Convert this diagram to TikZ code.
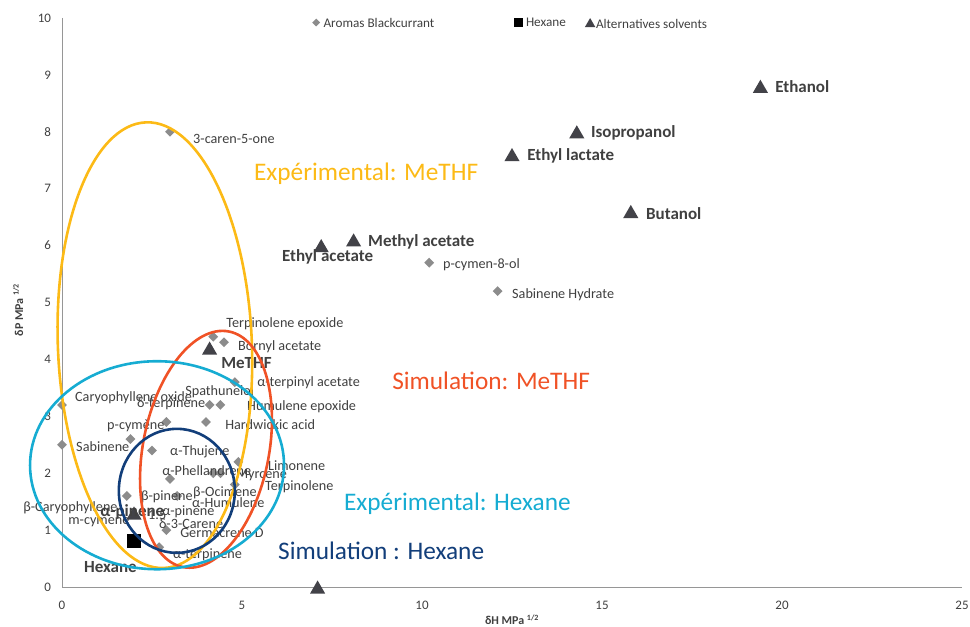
\documentclass[tikz,border=0pt]{standalone}
\usepackage{fontspec}
\setmainfont{Carlito}
\usetikzlibrary{shapes.geometric}
\usetikzlibrary{positioning}

\definecolor{aromagray}{RGB}{140,140,140}
\definecolor{solventgray}{RGB}{66,66,72}
\definecolor{textgray}{RGB}{64,64,64}
\definecolor{axisgray}{RGB}{150,150,150}
\definecolor{expmethf}{RGB}{252,186,22}
\definecolor{simmethf}{RGB}{240,82,38}
\definecolor{exphex}{RGB}{22,172,210}
\definecolor{simhex}{RGB}{18,62,122}

\begin{document}
\begin{tikzpicture}[x=36pt, y=56.9pt,
    aroma/.style={diamond, fill=aromagray, inner sep=0pt, minimum size=10pt},
    solvent/.style={regular polygon, regular polygon sides=3, fill=solventgray, inner sep=0pt, minimum size=17.5pt, yshift=-2.2pt},
    hexmark/.style={rectangle, fill=black, inner sep=0pt, minimum size=14pt},
    aromalabel/.style={anchor=west, inner sep=0pt, text=textgray, font=\fontsize{14.2}{15}\selectfont},
    solventlabel/.style={aromalabel, font=\fontsize{17}{18}\selectfont\bfseries},
    legendlabel/.style={aromalabel, font=\fontsize{13.2}{14}\selectfont},
    zonelabel/.style={anchor=west, inner sep=0pt, font=\fontsize{25.3}{27}\selectfont},
    ticklabel/.style={inner sep=0pt, text=textgray, font=\fontsize{13}{14}\selectfont},
    ring/.style={line width=2.6pt}]
    \useasboundingbox (-62pt,-40pt) rectangle (908pt,587pt);

    % axes
    \draw[axisgray, line width=0.8pt] (0,10) -- (0,0) -- (25,0);
    \node[ticklabel, anchor=east] (y0) at (-0.3,0) {0};
    \node[ticklabel, anchor=east] (y1) at (-0.3,1) {1};
    \node[ticklabel, anchor=east] (y2) at (-0.3,2) {2};
    \node[ticklabel, anchor=east] (y3) at (-0.3,3) {3};
    \node[ticklabel, anchor=east] (y4) at (-0.3,4) {4};
    \node[ticklabel, anchor=east] (y5) at (-0.3,5) {5};
    \node[ticklabel, anchor=east] (y6) at (-0.3,6) {6};
    \node[ticklabel, anchor=east] (y7) at (-0.3,7) {7};
    \node[ticklabel, anchor=east] (y8) at (-0.3,8) {8};
    \node[ticklabel, anchor=east] (y9) at (-0.3,9) {9};
    \node[ticklabel, anchor=east] (y10) at (-0.3,10) {10};
    \node[ticklabel] (x0) at (0,-0.33) {0};
    \node[ticklabel] (x5) at (5,-0.33) {5};
    \node[ticklabel] (x10) at (10,-0.33) {10};
    \node[ticklabel] (x15) at (15,-0.33) {15};
    \node[ticklabel] (x20) at (20,-0.33) {20};
    \node[ticklabel] (x25) at (25,-0.33) {25};
    \node[ticklabel, font=\fontsize{12}{13}\selectfont\bfseries] (xtitle) at (12.5,-0.58) {δH MPa \textsuperscript{1/2}};
    \node[ticklabel, font=\fontsize{12}{13}\selectfont\bfseries, rotate=90] (ytitle) at (-1.22,4.87) {δP MPa \textsuperscript{1/2}};

    % legend
    \node[aroma, minimum size=8pt] (legaroma) at (7.06,9.92) {};
    \node[legendlabel, right=3pt of legaroma] (legaromaT) {Aromas Blackcurrant};
    \node[hexmark, minimum size=9pt] (leghex) at (12.67,9.92) {};
    \node[legendlabel, right=3pt of leghex] (leghexT) {Hexane};
    \node[solvent, minimum size=12pt, yshift=0.7pt] (legsolv) at (14.67,9.92) {};
    \node[legendlabel, right=2pt of legsolv] (legsolvT) {Alternatives solvents};

    % aromas
    \node[aroma] (caren) at (3.0,8.0) {};
    \node[aroma] (cymenol) at (10.2,5.7) {};
    \node[aroma] (sabhyd) at (12.1,5.2) {};
    \node[aroma] (terpepox) at (4.2,4.4) {};
    \node[aroma] (bornyl) at (4.5,4.3) {};
    \node[aroma] (terpinyl) at (4.8,3.6) {};
    \node[aroma] (spathu) at (4.1,3.2) {};
    \node[aroma] (humepox) at (4.4,3.2) {};
    \node[aroma] (caryox) at (0,3.2) {};
    \node[aroma] (sabinene) at (0,2.5) {};
    \node[aroma] (dterp) at (2.9,2.9) {};
    \node[aroma] (hardw) at (4.0,2.9) {};
    \node[aroma] (pcym) at (1.9,2.6) {};
    \node[aroma] (thuj) at (2.5,2.4) {};
    \node[aroma] (phell) at (3.0,1.9) {};
    \node[aroma] (ocim) at (4.2,2.0) {};
    \node[aroma] (myrc) at (4.4,2.0) {};
    \node[aroma] (limo) at (4.9,2.2) {};
    \node[aroma] (terpino) at (4.8,1.8) {};
    \node[aroma] (bcary) at (1.8,1.6) {};
    \node[aroma] (bpin) at (3.2,1.6) {};
    \node[aroma] (carene) at (2.9,1.0) {};
    \node[aroma] (aterp) at (2.7,0.7) {};

    \node[aromalabel] (carenT) at (3.64,7.87) {3-caren-5-one};
    \node[aromalabel] (cymenolT) at (10.58,5.66) {p-cymen-8-ol};
    \node[aromalabel] (sabhydT) at (12.5,5.13) {Sabinene Hydrate};
    \node[aromalabel] (terpepoxT) at (4.56,4.62) {Terpinolene epoxide};
    \node[aromalabel] (bornylT) at (4.89,4.22) {Bornyl acetate};
    \node[aromalabel] (terpinylT) at (5.42,3.59) {α-terpinyl acetate};
    \node[aromalabel] (spathuT) at (3.42,3.43) {Spathunelol};
    \node[aromalabel] (humepoxT) at (5.14,3.16) {Humulene epoxide};
    \node[aromalabel] (caryoxT) at (0.36,3.32) {Caryophyllene oxide};
    \node[aromalabel] (dterpT) at (2.08,3.22) {δ-terpinene};
    \node[aromalabel] (hardwT) at (4.53,2.85) {Hardwickic acid};
    \node[aromalabel] (pcymT) at (1.25,2.83) {p-cymène};
    \node[aromalabel] (sabineneT) at (0.39,2.46) {Sabinene};
    \node[aromalabel] (thujT) at (3.0,2.37) {α-Thujene};
    \node[aromalabel] (phellT) at (2.78,2.04) {α-Phellandrene};
    \node[aromalabel] (myrcT) at (4.83,1.97) {Myrcene};
    \node[aromalabel] (limoT) at (5.72,2.14) {Limonene};
    \node[aromalabel] (terpinoT) at (5.64,1.76) {Terpinolene};
    \node[aromalabel] (ocimT) at (3.64,1.65) {β-Ocimene};
    \node[aromalabel] (humT) at (3.61,1.48) {α-Humulene};
    \node[aromalabel] (bpinT) at (2.19,1.58) {β-pinene};
    \node[aromalabel] (bcaryT) at (-1.08,1.39) {β-Caryophyllene};
    \node[aromalabel] (mcymT) at (0.17,1.14) {m-cymene};
    \node[aromalabel] (onefiveT) at (2.39,1.27) {1.5};
    \node[aromalabel] (apinT) at (2.78,1.32) {α-pinene};
    \node[aromalabel] (careneT) at (2.69,1.11) {δ-3-Carene};
    \node[aromalabel] (germT) at (3.28,0.95) {Germacrene D};
    \node[aromalabel] (aterpT) at (3.08,0.56) {α-terpinene};

    % solvents
    \node[solvent] (ethanol) at (19.4,8.8) {};
    \node[solvent] (isoprop) at (14.3,8.0) {};
    \node[solvent] (ethlact) at (12.5,7.6) {};
    \node[solvent] (butanol) at (15.8,6.6) {};
    \node[solvent] (methac) at (8.1,6.1) {};
    \node[solvent] (ethac) at (7.2,6.0) {};
    \node[solvent] (methf) at (4.1,4.2) {};
    \node[solvent] (apin) at (2.0,1.3) {};
    \node[solvent] (nosolv) at (7.1,0) {};
    \node[hexmark] (hexane) at (2.0,0.8) {};

    \node[solventlabel] (ethanolT) at (19.81,8.79) {Ethanol};
    \node[solventlabel] (isopropT) at (14.69,7.98) {Isopropanol};
    \node[solventlabel] (ethlactT) at (12.92,7.57) {Ethyl lactate};
    \node[solventlabel] (butanolT) at (16.22,6.57) {Butanol};
    \node[solventlabel] (methacT) at (8.5,6.06) {Methyl acetate};
    \node[solventlabel] (ethacT) at (6.11,5.8) {Ethyl acetate};
    \node[solventlabel] (methfT) at (4.42,3.94) {MeTHF};
    \node[solventlabel] (apinB) at (1.06,1.32) {α-pinene};
    \node[solventlabel] (hexaneT) at (0.61,0.35) {Hexane};

    % solubility zones
    \draw[ring, expmethf] (2.58,4.25) ellipse [x radius=97pt, y radius=223pt, rotate=2.3];
    \draw[ring, simmethf] (4.0,2.42) ellipse [x radius=63pt, y radius=120pt, rotate=-11];
    \draw[ring, exphex] (2.64,2.14) ellipse [x radius=127pt, y radius=104pt];
    \draw[ring, simhex] (3.19,1.69) ellipse [x radius=58pt, y radius=62pt];

    \node[zonelabel, text=expmethf] (expmethfT) at (5.33,7.26) {Expérimental: MeTHF};
    \node[zonelabel, text=simmethf] (simmethfT) at (9.17,3.62) {Simulation: MeTHF};
    \node[zonelabel, text=exphex] (exphexT) at (7.83,1.46) {Expérimental: Hexane};
    \node[zonelabel, text=simhex] (simhexT) at (6.0,0.63) {Simulation : Hexane};
\end{tikzpicture}
\end{document}
